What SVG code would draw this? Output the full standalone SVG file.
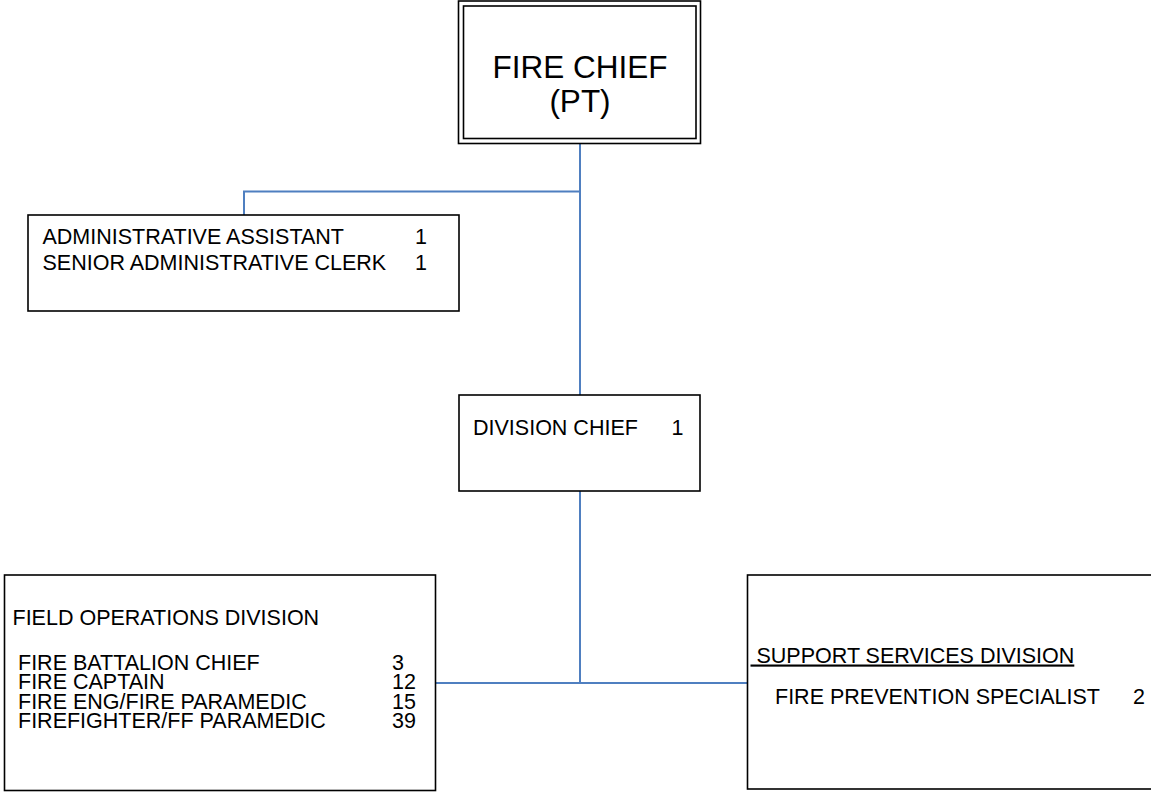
<svg xmlns="http://www.w3.org/2000/svg" width="1151" height="793" viewBox="0 0 1151 793">
<style>
.box{fill:#fff;stroke:#000;stroke-width:1.6}
.dbl{fill:none;stroke:#000;stroke-width:1.6}
.con{fill:none;stroke:#4f7fc0;stroke-width:2}
text{font-family:"Liberation Sans",Arial,sans-serif;fill:#000}
.t{font-size:21.5px}
.big{font-size:31.5px}
</style>
<rect width="1151" height="793" fill="#fff"/>
<g id="connectors">
<polyline class="con" points="244,215 244,191.5 580,191.5"/>
<line class="con" x1="580" y1="143.5" x2="580" y2="395"/>
<line class="con" x1="580" y1="491" x2="580" y2="683"/>
<line class="con" x1="435.5" y1="683" x2="747.5" y2="683"/>
</g>
<g id="fire-chief">
<rect class="box" x="458.5" y="1" width="242" height="142.5"/>
<rect class="dbl" x="463.5" y="6" width="232.5" height="132.5"/>
<text class="big" x="580" y="78" text-anchor="middle">FIRE CHIEF</text>
<text class="big" x="580" y="112" text-anchor="middle">(PT)</text>
</g>
<g id="admin">
<rect class="box" x="28" y="215" width="431" height="96"/>
<text class="t" x="42.5" y="244">ADMINISTRATIVE ASSISTANT</text>
<text class="t" x="415" y="244">1</text>
<text class="t" x="42.5" y="270">SENIOR ADMINISTRATIVE CLERK</text>
<text class="t" x="415" y="270">1</text>
</g>
<g id="division-chief">
<rect class="box" x="459" y="395" width="241" height="96"/>
<text class="t" x="473" y="435">DIVISION CHIEF</text>
<text class="t" x="671.5" y="435">1</text>
</g>
<g id="field-operations">
<rect class="box" x="4.5" y="575" width="431" height="215.5"/>
<text class="t" x="12.5" y="625">FIELD OPERATIONS DIVISION</text>
<text class="t" x="18" y="669.5">FIRE BATTALION CHIEF</text>
<text class="t" x="392" y="669.5">3</text>
<text class="t" x="18" y="689">FIRE CAPTAIN</text>
<text class="t" x="392" y="689">12</text>
<text class="t" x="18" y="708.5">FIRE ENG/FIRE PARAMEDIC</text>
<text class="t" x="392" y="708.5">15</text>
<text class="t" x="18" y="728">FIREFIGHTER/FF PARAMEDIC</text>
<text class="t" x="392" y="728">39</text>
</g>
<g id="support-services">
<rect class="box" x="747.5" y="575" width="420" height="214"/>
<text class="t" x="750.5" y="662.5" xml:space="preserve" text-decoration="underline"> SUPPORT SERVICES DIVISION</text>
<text class="t" x="775" y="703.5">FIRE PREVENTION SPECIALIST</text>
<text class="t" x="1133" y="703.5">2</text>
</g>
</svg>
